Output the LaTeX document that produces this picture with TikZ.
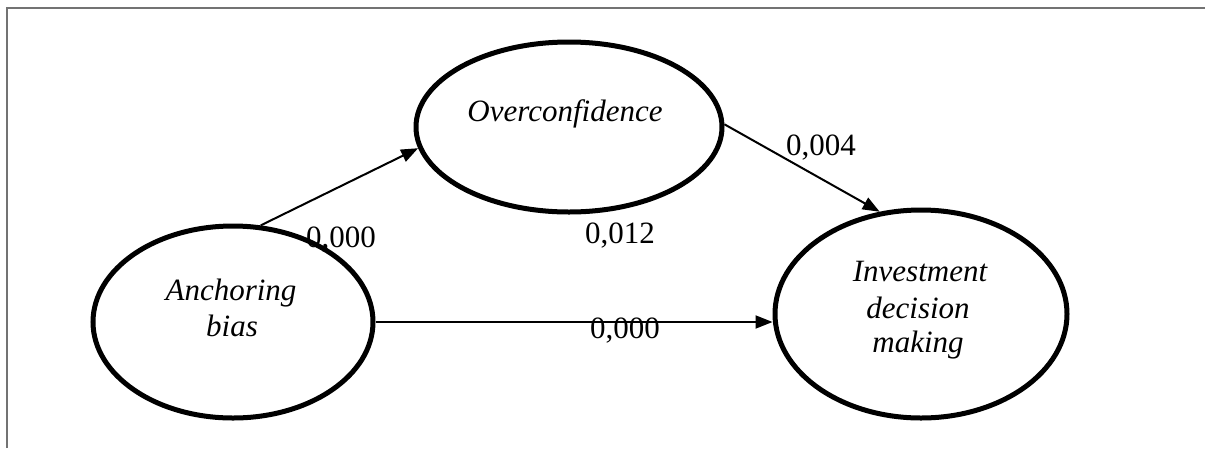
\documentclass[tikz,border=0pt]{standalone}
\usepackage{fontspec}
\setmainfont{Liberation Serif}
\usetikzlibrary{shapes.geometric,arrows.meta}
\begin{document}
\begin{tikzpicture}[x=1pt,y=-1pt,
  varbox/.style={ellipse,draw,line width=5pt,inner sep=0pt},
  vartext/.style={anchor=base,inner sep=0pt,font=\fontsize{31}{37}\selectfont\itshape},
  coef/.style={anchor=base,inner sep=0pt,font=\fontsize{31}{37}\selectfont},
  path arrow/.style={line width=2pt,-{Triangle[length=17pt,width=13pt]}},
  frame line/.style={draw=black!55,line width=2pt}]
\useasboundingbox (0,0) rectangle (1205,448);
\coordinate (fa) at (7,448);
\coordinate (fb) at (7,8);
\coordinate (fc) at (1205,8);
\draw[frame line] (fa) -- (fb) -- (fc);
% ellipses
\node[varbox,minimum width=306pt,minimum height=170pt] (over) at (569,127) {};
\node[varbox,minimum width=280pt,minimum height=192pt] (anc) at (233,322) {};
\node[varbox,minimum width=292pt,minimum height=208pt] (inv) at (921,314) {};
% texts
\node[vartext] (tover) at (565,121) {Overconfidence};
\node[vartext] (tanc1) at (231,300) {Anchoring};
\node[vartext] (tanc2) at (232,336) {bias};
\node[vartext] (tinv1) at (920,281) {Investment};
\node[vartext] (tinv2) at (918,318) {decision};
\node[vartext] (tinv3) at (918,352) {making};
% arrows
\draw[path arrow] (anc.74) -- (over.188);
\draw[path arrow] (over.1.5) -- (inv.112);
\draw[path arrow] (anc.east) -- (anc.east -| inv.west);
% coefficients
\node[coef] (c1) at (341,247) {0,000};
\node[coef] (c2) at (620,243) {0,012};
\node[coef] (c3) at (821,155) {0,004};
\node[coef] (c4) at (625,338) {0,000};
\end{tikzpicture}
\end{document}
